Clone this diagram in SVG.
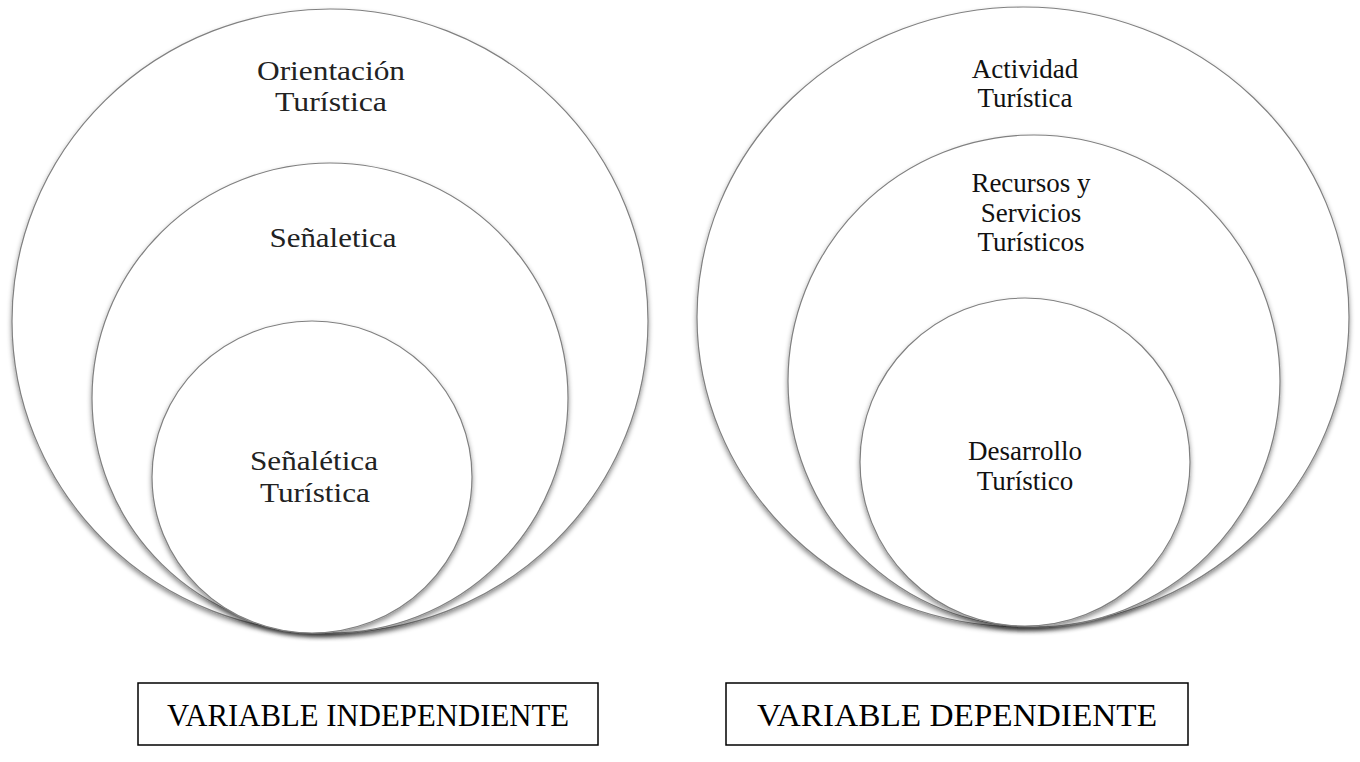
<svg xmlns="http://www.w3.org/2000/svg" width="1360" height="762" viewBox="0 0 1360 762">
<style>
.c{fill:#fff;stroke:#808080;stroke-width:1.2;filter:url(#sh)}
.t{font-family:"Liberation Serif","Times New Roman",serif;font-size:27px;fill:#111;text-anchor:middle}
.tl{font-family:"Liberation Serif","Times New Roman",serif;font-size:28px;fill:#222;text-anchor:middle}
.b{fill:none;stroke:#000;stroke-width:1.5}
.bt{font-family:"Liberation Serif","Times New Roman",serif;font-size:31px;fill:#000;text-anchor:middle}
</style>
<defs>
<filter id="sh" x="-10%" y="-10%" width="120%" height="125%">
<feDropShadow dx="0" dy="3" stdDeviation="2.5" flood-color="#000" flood-opacity="0.45"/>
</filter>
</defs>
<rect width="1360" height="762" fill="#fff"/>
<g id="orientacion">
<ellipse class="c" cx="330" cy="321" rx="318" ry="312"/>
<text class="tl" x="331" y="80" textLength="148" lengthAdjust="spacingAndGlyphs">Orientación</text>
<text class="tl" x="331" y="111" textLength="112" lengthAdjust="spacingAndGlyphs">Turística</text>
</g>
<g id="senaletica">
<ellipse class="c" cx="330" cy="398" rx="238" ry="235"/>
<text class="tl" x="333" y="247" textLength="127" lengthAdjust="spacingAndGlyphs">Señaletica</text>
</g>
<g id="senaletica-turistica">
<ellipse class="c" cx="312" cy="477" rx="160" ry="156"/>
<text class="tl" x="314" y="470" textLength="128" lengthAdjust="spacingAndGlyphs">Señalética</text>
<text class="tl" x="315" y="502" textLength="110" lengthAdjust="spacingAndGlyphs">Turística</text>
</g>
<g id="actividad">
<ellipse class="c" cx="1023" cy="317" rx="326" ry="310"/>
<text class="t" x="1025" y="78">Actividad</text>
<text class="t" x="1025" y="107">Turística</text>
</g>
<g id="recursos">
<ellipse class="c" cx="1034" cy="381" rx="246" ry="246"/>
<text class="t" x="1031" y="192">Recursos y</text>
<text class="t" x="1031" y="222">Servicios</text>
<text class="t" x="1031" y="251">Turísticos</text>
</g>
<g id="desarrollo">
<ellipse class="c" cx="1025" cy="462" rx="165" ry="164"/>
<text class="t" x="1025" y="460">Desarrollo</text>
<text class="t" x="1025" y="490">Turístico</text>
</g>
<g id="var-independiente">
<rect class="b" x="138" y="683" width="460" height="62"/>
<text class="bt" x="368" y="726" textLength="402" lengthAdjust="spacingAndGlyphs">VARIABLE INDEPENDIENTE</text>
</g>
<g id="var-dependiente">
<rect class="b" x="726" y="683" width="462" height="62"/>
<text class="bt" x="957" y="726" textLength="400" lengthAdjust="spacingAndGlyphs">VARIABLE DEPENDIENTE</text>
</g>
<g id="connectors"/>
</svg>
